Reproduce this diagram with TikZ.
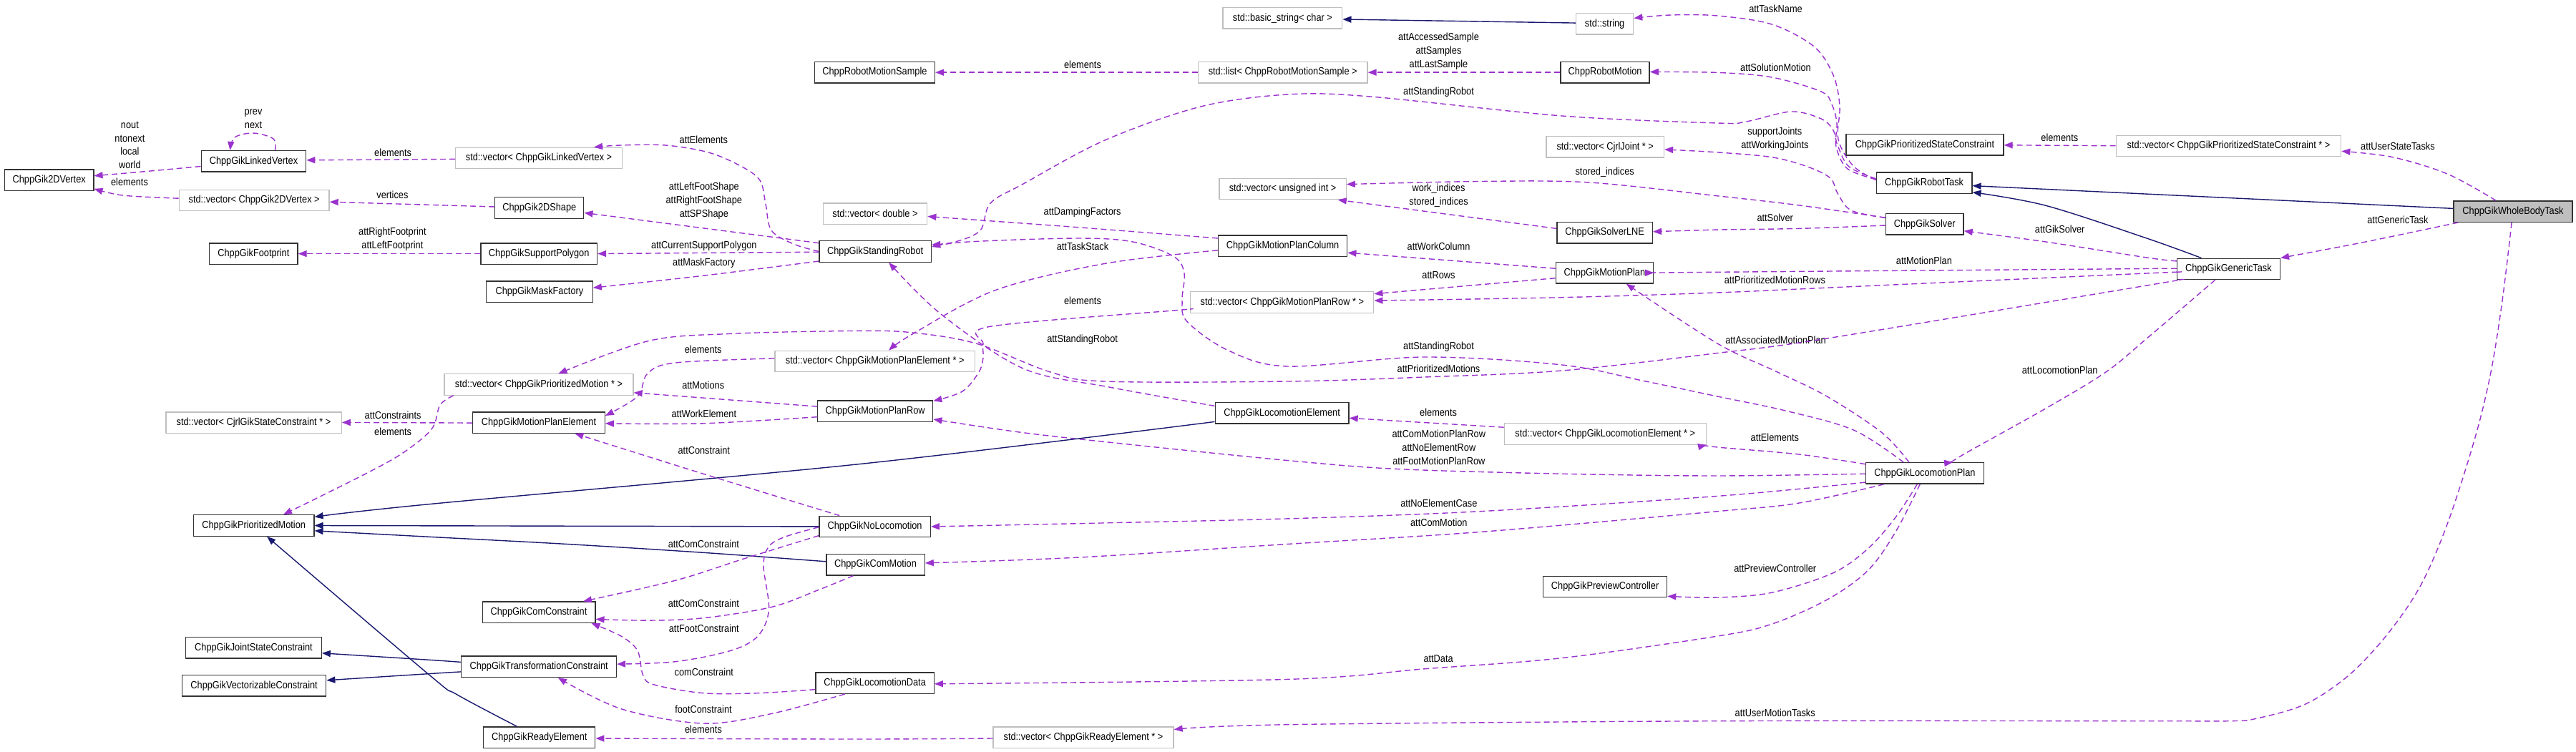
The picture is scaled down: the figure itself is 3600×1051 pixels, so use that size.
\documentclass[tikz,border=0pt]{standalone}
\usepackage{fontspec}
\setmainfont{Liberation Sans}[FakeStretch=0.88]
\usetikzlibrary{arrows.meta,calc}
\definecolor{usec}{RGB}{154,50,205}
\definecolor{inhc}{RGB}{25,25,112}
\definecolor{extc}{RGB}{191,191,191}
\definecolor{selc}{RGB}{191,191,191}
\newcommand{\dgf}{\fontsize{14.5}{18.8}\selectfont}
\begin{document}
\begin{tikzpicture}[x=1pt,y=-1pt,
  cls/.style={draw=black!80,line width=1.3pt,fill=white,minimum height=29.4pt,inner sep=0pt,font=\dgf},
  ext/.style={cls,draw=extc},
  lbl/.style={inner sep=0pt,align=center,font=\dgf},
  usage/.style={draw=usec,line width=1.4pt,dash pattern=on 8pt off 5pt,-{Triangle[length=12pt,width=9pt]}},
  inher/.style={draw=inhc,line width=1.4pt,-{Triangle[length=12pt,width=9pt]}},
  sm/.style={smooth,tension=0.55}]
\fill[white] (0,0) rectangle (3600,1051);
\useasboundingbox (0,0) rectangle (3600,1051);
% ---------------- nodes
\node[cls,minimum width=124.4] (v2d) at (68.7,251.8) {ChppGik2DVertex};
\node[cls,minimum width=146.5] (lv) at (354.5,225.3) {ChppGikLinkedVertex};
\node[ext,minimum width=209.7] (vtd) at (355.2,280) {std::vector< ChppGik2DVertex >};
\node[cls,minimum width=123.3] (fp) at (354.4,354.6) {ChppGikFootprint};
\node[ext,minimum width=232.7] (veclv) at (753,221) {std::vector< ChppGikLinkedVertex >};
\node[cls,minimum width=124] (shape) at (753.8,290.5) {ChppGik2DShape};
\node[cls,minimum width=162.7] (sp) at (753.2,354.6) {ChppGikSupportPolygon};
\node[cls,minimum width=148.5] (mf) at (753.9,407.8) {ChppGikMaskFactory};
\node[cls,minimum width=168] (rms) at (1222.4,101.2) {ChppRobotMotionSample};
\node[cls,minimum width=156.5] (sr) at (1223.2,351.5) {ChppGikStandingRobot};
\node[ext,minimum width=145.4] (vdbl) at (1223,298.6) {std::vector< double >};
\node[ext,minimum width=279.7] (vmpe) at (1222.7,505.1) {std::vector< ChppGikMotionPlanElement * >};
\node[ext,minimum width=166.8] (bstr) at (1792.4,25.3) {std::basic\_string< char >};
\node[ext,minimum width=236.5] (lrms) at (1792.7,101.2) {std::list< ChppRobotMotionSample >};
\node[ext,minimum width=177.1] (vuint) at (1792.6,264) {std::vector< unsigned int >};
\node[cls,minimum width=180.3] (mpc) at (1792.6,343.6) {ChppGikMotionPlanColumn};
\node[ext,minimum width=256] (vmpr) at (1791.8,422.5) {std::vector< ChppGikMotionPlanRow * >};
\node[ext,minimum width=80] (str) at (2242.6,33.3) {std::string};
\node[cls,minimum width=124] (rm) at (2243.1,101.2) {ChppRobotMotion};
\node[ext,minimum width=164.5] (vjoint) at (2243.2,205.3) {std::vector< CjrlJoint * >};
\node[cls,minimum width=133.5] (lne) at (2242.6,325.2) {ChppGikSolverLNE};
\node[cls,minimum width=136.2] (mp) at (2242.4,381.3) {ChppGikMotionPlan};
\node[cls,minimum width=220] (psc) at (2689.9,202.3) {ChppGikPrioritizedStateConstraint};
\node[cls,minimum width=133.6] (rt) at (2689.1,255.7) {ChppGikRobotTask};
\node[cls,minimum width=108.7] (solver) at (2689.7,313.3) {ChppGikSolver};
\node[ext,minimum width=314.5] (vpsc) at (3114.5,204) {std::vector< ChppGikPrioritizedStateConstraint * >};
\node[cls,fill=selc,minimum width=166] (wbt) at (3512,295.6) {ChppGikWholeBodyTask};
\node[cls,minimum width=144] (gt) at (3114.4,375.9) {ChppGikGenericTask};
\node[ext,minimum width=245.3] (vcjrl) at (354.5,590.6) {std::vector< CjrlGikStateConstraint * >};
\node[cls,minimum width=168.4] (pm) at (354.7,734.5) {ChppGikPrioritizedMotion};
\node[cls,minimum width=189.4] (jsc) at (354.5,905.4) {ChppGikJointStateConstraint};
\node[cls,minimum width=201.3] (vc) at (355.1,958.3) {ChppGikVectorizableConstraint};
\node[ext,minimum width=264] (vpm) at (753,537.5) {std::vector< ChppGikPrioritizedMotion * >};
\node[cls,minimum width=184.5] (mpe) at (753,590.6) {ChppGikMotionPlanElement};
\node[cls,minimum width=157.7] (cc) at (753,855.7) {ChppGikComConstraint};
\node[cls,minimum width=216.6] (tc) at (753.1,931.8) {ChppGikTransformationConstraint};
\node[cls,minimum width=156] (re) at (753.8,1030.6) {ChppGikReadyElement};
\node[cls,minimum width=161] (mpr) at (1223.2,574.7) {ChppGikMotionPlanRow};
\node[cls,minimum width=155.4] (noloc) at (1222.6,735.9) {ChppGikNoLocomotion};
\node[cls,minimum width=137.3] (cm) at (1223.5,789.2) {ChppGikComMotion};
\node[cls,minimum width=165.3] (ld) at (1222.6,954.6) {ChppGikLocomotionData};
\node[cls,minimum width=186.8] (le) at (1791.6,577.4) {ChppGikLocomotionElement};
\node[ext,minimum width=252] (vre) at (1514,1030.6) {std::vector< ChppGikReadyElement * >};
\node[ext,minimum width=282] (vle) at (2243.3,606.5) {std::vector< ChppGikLocomotionElement * >};
\node[cls,minimum width=173] (pc) at (2243.1,820) {ChppGikPreviewController};
\node[cls,minimum width=164.9] (lp) at (2689.9,661.4) {ChppGikLocomotionPlan};
% ---------------- labels
\node[lbl] (l1) at (181.4,202.8) {nout\\ntonext\\local\\world};
\node[lbl] (l2) at (181,254.5) {elements};
\node[lbl] (l3) at (354,166.5) {prev\\next};
\node[lbl] (l4) at (549.1,212.9) {elements};
\node[lbl] (l5) at (548.4,272.1) {vertices};
\node[lbl] (l6) at (548.4,334.1) {attRightFootprint\\attLeftFootprint};
\node[lbl] (l7) at (983.4,195) {attElements};
\node[lbl] (l8) at (983.8,280.8) {attLeftFootShape\\attRightFootShape\\attSPShape};
\node[lbl] (l9) at (983.8,344.1) {attCurrentSupportPolygon};
\node[lbl] (l10) at (983.8,367.7) {attMaskFactory};
\node[lbl] (l11) at (982.7,488.7) {elements};
\node[lbl] (l12) at (1513,90.6) {elements};
\node[lbl] (l13) at (1512.6,296.8) {attDampingFactors};
\node[lbl] (l14) at (1513,344.8) {attTaskStack};
\node[lbl] (l15) at (1513,420.8) {elements};
\node[lbl] (l16) at (1512.6,474.9) {attStandingRobot};
\node[lbl] (l17) at (2010.5,71.8) {attAccessedSample\\attSamples\\attLastSample};
\node[lbl] (l18) at (2010.5,128.8) {attStandingRobot};
\node[lbl] (l19) at (2242.7,240.7) {stored\_indices};
\node[lbl] (l20) at (2010.5,273.1) {work\_indices\\stored\_indices};
\node[lbl] (l21) at (2010.5,344.8) {attWorkColumn};
\node[lbl] (l22) at (2010.5,384.6) {attRows};
\node[lbl] (l23) at (2010.5,485) {attStandingRobot};
\node[lbl] (l24) at (2010.5,515.5) {attPrioritizedMotions};
\node[lbl] (l25) at (2481.5,12.8) {attTaskName};
\node[lbl] (l26) at (2481.5,94.6) {attSolutionMotion};
\node[lbl] (l27) at (2480.4,194.2) {supportJoints\\attWorkingJoints};
\node[lbl] (l28) at (2878.3,192.7) {elements};
\node[lbl] (l29) at (2480.7,304.5) {attSolver};
\node[lbl] (l30) at (2878.7,320.8) {attGikSolver};
\node[lbl] (l31) at (2688.9,364.7) {attMotionPlan};
\node[lbl] (l32) at (2480.4,391.7) {attPrioritizedMotionRows};
\node[lbl] (l33) at (2481.5,474.9) {attAssociatedMotionPlan};
\node[lbl] (l34) at (2878.7,517.1) {attLocomotionPlan};
\node[lbl] (l35) at (3350.9,204.5) {attUserStateTasks};
\node[lbl] (l36) at (3350.9,307.6) {attGenericTask};
\node[lbl] (l37) at (549.1,580) {attConstraints};
\node[lbl] (l38) at (549.1,603.6) {elements};
\node[lbl] (l39) at (982.7,538.6) {attMotions};
\node[lbl] (l40) at (983.8,578.6) {attWorkElement};
\node[lbl] (l41) at (983.8,629) {attConstraint};
\node[lbl] (l42) at (983.4,760.4) {attComConstraint};
\node[lbl] (l43) at (983.4,843.4) {attComConstraint};
\node[lbl] (l44) at (983.8,878.3) {attFootConstraint};
\node[lbl] (l45) at (983.8,938.9) {comConstraint};
\node[lbl] (l46) at (983,991.7) {footConstraint};
\node[lbl] (l47) at (983,1019.8) {elements};
\node[lbl] (l48) at (2010.1,575.9) {elements};
\node[lbl] (l49) at (2010.8,625.1) {attComMotionPlanRow\\attNoElementRow\\attFootMotionPlanRow};
\node[lbl] (l50) at (2010.8,702.9) {attNoElementCase};
\node[lbl] (l51) at (2010.8,730.6) {attComMotion};
\node[lbl] (l52) at (2010.1,920.6) {attData};
\node[lbl] (l53) at (2480.4,611.8) {attElements};
\node[lbl] (l54) at (2480.7,794.6) {attPreviewController};
\node[lbl] (l55) at (2480.7,996.8) {attUserMotionTasks};
% ---------------- edges
\draw[usage] plot[sm] coordinates {($(lv.west)+(0,7.2)$) (191.3,240.7) ($(v2d.east)+(0,-6.1)$)};
\draw[usage] plot[sm] coordinates {($(vtd.west)+(0,-2.8)$) (172.2,273.1) ($(v2d.east)+(0,12)$)};
\draw[usage] plot[sm] coordinates {($(lv.north)+(30,0)$) (382,194) (354,186) (328,192) ($(lv.north)+(-33,0)$)};
\draw[usage] ($(veclv.west)+(0,1.4)$) -- ($(lv.east)+(0,-1.5)$);
\draw[usage] ($(shape.west)+(0,-1.5)$) -- ($(vtd.east)+(0,2.2)$);
\draw[usage] (sp.west) -- (fp.east);
\draw[usage] plot[sm] coordinates {(sr.west) (1109,341) (1078,322) (1070,285) (1062,252) (1035,232) (990,213) (930,203) (868,203) ($(veclv.north east)+(-40,0)$)};
\draw[usage] ($(sr.west)+(0,-11.8)$) -- ($(shape.east)+(0,6.9)$);
\draw[usage] ($(sr.west)+(0,0.7)$) -- (sp.east);
\draw[usage] plot[sm] coordinates {($(sr.west)+(0,13.5)$) (982.7,385.3) ($(mf.east)+(0,-5.6)$)};
\draw[usage] (lrms.west) -- (rms.east);
\draw[inher] ($(str.west)+(0,-1.2)$) -- ($(bstr.east)+(0,1.7)$);
\draw[usage] (rm.west) -- (lrms.east);
\draw[usage] plot[sm] coordinates {($(rt.west)+(0,-4)$) (2590,232) (2569,195) (2571,148) (2562,105) (2535,65) (2476,34) (2400,22) (2335,21) ($(str.east)+(0,-7.9)$)};
\draw[usage] plot[sm] coordinates {($(rt.west)+(0,-5)$) (2582,236) (2566,205) (2567,172) (2560,146) (2545,128) (2476,108) (2400,101.4) ($(rm.east)+(0,-0.7)$)};
\draw[usage] plot[sm] coordinates {($(rt.west)+(0,-6)$) (2584,233) (2568,203) (2562,182) (2545,166) (2503,156) (2440,170) (2400,172) (2183,162) (1915,135) (1800,132) (1678,149) (1544,196) (1430,257) (1384,284) (1370,322) (1335,338) ($(sr.east)+(0,-9.5)$)};
\draw[usage] plot[sm] coordinates {($(solver.west)+(0,-9)$) (2587,294) (2568,270) (2558,249) (2526,233) (2476,219.7) (2400,212.9) ($(vjoint.east)+(0,3.6)$)};
\draw[usage] plot[sm] coordinates {($(solver.west)+(0,-9)$) (2515,287) (2400,273.8) (2221,255) (2068,253.5) ($(vuint.east)+(0,-6.4)$)};
\draw[usage] ($(lne.west)+(0,-5.8)$) -- ($(vuint.south east)+(-12,0)$);
\draw[usage] plot[sm] coordinates {($(solver.west)+(0,1.7)$) (2515,319.4) (2400,321.1) ($(lne.east)+(0,-1.4)$)};
\draw[inher] ($(wbt.west)+(0,-4.2)$) -- ($(rt.east)+(0,3.9)$);
\draw[inher] plot[sm] coordinates {($(gt.north)+(-38,0)$) (3000,333) (2859,287.3) ($(rt.east)+(0,13)$)};
\draw[usage] plot[sm] coordinates {($(gt.west)+(0,-11)$) (3000,360) (2859,338) ($(solver.east)+(0,9.5)$)};
\draw[usage] plot[sm] coordinates {($(gt.west)+(0,-0.7)$) (2400,380.3) (mp.east)};
\draw[usage] plot[sm] coordinates {($(gt.west)+(0,4.4)$) (3000,382) (2553,402.2) (2400,409) (2183,415.7) ($(vmpr.east)+(0,-2.4)$)};
\draw[usage] plot[sm] coordinates {($(gt.south west)+(3,0)$) (3000,399) (2553,473) (2400,493.5) (2183,518) (1991,527) (1800,533) (1544,533) (1468,520) (1364,480) (1276,465) (1200,462.4) (1021,466.4) (906,476.6) ($(vpm.north east)+(-105.2,0)$)};
\draw[usage] ($(mp.west)+(0,-6.1)$) -- ($(mpc.east)+(0,9.6)$);
\draw[usage] ($(mp.west)+(0,7.4)$) -- ($(vmpr.east)+(0,-11.8)$);
\draw[usage] plot[sm] coordinates {($(lp.north)+(-22,0)$) (2630,604.7) (2553,553.9) (2484,520) (2400,480) ($(mp.south)+(30.2,0)$)};
\draw[usage] plot[sm] coordinates {($(mpc.west)+(0,-10.6)$) (1506,317.7) ($(vdbl.east)+(0,3.9)$)};
\draw[usage] plot[sm] coordinates {($(mpc.west)+(0,6.2)$) (1544,368.4) (1391,405.6) (1276,466.4) ($(vmpe.north)+(19.4,0)$)};
\draw[usage] plot[sm] coordinates {($(vmpe.west)+(0,-4.2)$) (944,507) (905,522) (891,554) ($(mpe.east)+(0,-9.6)$)};
\draw[usage] plot[sm] coordinates {($(vmpr.west)+(0,9.5)$) (1640,434) (1384,456.3) (1374,480) (1374,500) (1368,520) (1345,547) ($(mpr.north east)+(0,1)$)};
\draw[usage] plot[sm] coordinates {($(le.west)+(0,-10)$) (1550,541) (1430,515) (1315,439) ($(sr.south)+(19,0)$)};
\draw[usage] plot[sm] coordinates {($(lp.north)+(-29.7,0)$) (2591,601.3) (2496,574.2) (2400,554) (2300,533) (2183,510) (1991,499) (1800,512) (1717,490) (1659,449.5) (1652,420) (1655,382) (1640,358.3) (1583,338) (1506,333) (1353,338) ($(sr.east)+(0,-6.5)$)};
\draw[usage] plot[sm] coordinates {($(wbt.north)+(-24,0)$) (3421,243.4) (3344,219.7) ($(vpsc.east)+(0,7.3)$)};
\draw[usage] ($(vpsc.west)+(0,-0.2)$) -- ($(psc.east)+(0,0.5)$);
\draw[usage] plot[sm] coordinates {($(wbt.south west)+(7,0)$) (3306,338) (gt.north east)};
\draw[usage] plot[sm] coordinates {($(gt.south)+(-18.7,0)$) (3000,473.2) (2943,520) (2859,570.8) (2744,635.1) ($(lp.north)+(39.2,0)$)};
\draw[usage] plot[sm] coordinates {($(wbt.south)+(-1.9,0)$) (3497,420) (3481,520) (3459,611.4) (3421,730) (3383,818) (3337,885.7) (3283,943.3) (3222,984) (3153,1004.3) (3115,1007.7) (3000,1007.7) (2400,1007.7) (1800,1012.7) ($(vre.east)+(0,-11.1)$)};
\draw[usage] plot[sm] coordinates {($(vre.west)+(0,1.4)$) (1200,1033) ($(re.east)+(0,1.4)$)};
\draw[usage] plot[sm] coordinates {($(lp.south)+(-6.7,0)$) (2649,743.5) (2610,797.7) (2553,838.3) (2476,872.2) (2400,889.1) (2183,919.6) (1991,934.8) (1800,949.4) ($(ld.east)+(0,1.2)$)};
\draw[usage] plot[sm] coordinates {($(lp.south)+(-10.6,0)$) (2649,723.2) (2610,767.2) (2561,801.1) (2476,828.2) (2400,835) ($(pc.east)+(0,13.3)$)};
\draw[usage] plot[sm] coordinates {($(lp.west)+(0,-12.7)$) (2515,635.1) (2400,625) (vle.south east)};
\draw[usage] ($(vle.west)+(0,-9.3)$) -- ($(le.east)+(0,6.9)$);
\draw[usage] plot[sm] coordinates {($(lp.west)+(0,0.8)$) (2400,665) (2183,662.2) (1953,655.5) (1800,643.6) (1583,621.6) (1430,604.7) ($(mpr.east)+(0,11.3)$)};
\draw[usage] plot[sm] coordinates {($(lp.west)+(0,12.7)$) (2400,693.4) (2068,714.7) (1800,724.9) (1506,731.7) ($(noloc.east)+(0,0.1)$)};
\draw[usage] plot[sm] coordinates {($(lp.south west)+(26,0)$) (2515,702.9) (2400,714.7) (2068,743.5) (1800,760.4) (1506,779.1) ($(cm.east)+(0,-2.3)$)};
\draw[inher] (noloc.west) -- (pm.east);
\draw[inher] plot[sm] coordinates {($(cm.west)+(0,-4.4)$) (982.7,772.3) (791.3,760.4) (600,750.3) ($(pm.east)+(0,7.3)$)};
\draw[inher] plot[sm] coordinates {($(le.west)+(0,12)$) (1200,648.7) (600,704.6) ($(pm.east)+(0,-12)$)};
\draw[inher] plot[sm] coordinates {($(re.north)+(-31.4,0)$) (638,970.4) (600,943.3) ($(pm.south)+(18.4,0)$)};
\draw[inher] plot[sm] coordinates {($(tc.west)+(0,-6.4)$) (600,922.3) ($(jsc.east)+(0,7.4)$)};
\draw[inher] plot[sm] coordinates {($(tc.west)+(0,7.1)$) (600,941.6) ($(vc.east)+(0,-7.5)$)};
\draw[usage] ($(mpe.west)+(0,0.5)$) -- ($(vcjrl.east)+(0,-0.2)$);
\draw[usage] plot[sm] coordinates {($(vpm.south west)+(13.4,0)$) (615,566) (603,600) (560,635) (497.5,669) ($(pm.north)+(41.3,0)$)};
\draw[usage] ($(mpr.west)+(0,-6.6)$) -- ($(vpm.east)+(0,11.3)$);
\draw[usage] plot[sm] coordinates {($(mpr.west)+(0,8)$) (982.7,591.8) ($(mpe.east)+(0,1.2)$)};
\draw[usage] plot[sm] coordinates {($(noloc.north west)+(29,0)$) (982.7,662.2) ($(mpe.south east)+(-42.5,0)$)};
\draw[usage] plot[sm] coordinates {($(noloc.west)+(0,12.7)$) (1040,780.8) (944,811.2) ($(cc.north east)+(-17.5,0)$)};
\draw[usage] plot[sm] coordinates {($(cm.south west)+(38.3,0)$) (1143,824.8) (1078,848.5) (983,863.7) (906,867.1) ($(cc.east)+(0,9.7)$)};
\draw[usage] plot[sm] coordinates {($(noloc.west)+(0,0.8)$) (1097,750.3) (1074.5,763.8) (1067,790.9) (1074.5,851.9) (1059,889.1) (1021,909.4) (944,924.7) ($(tc.east)+(0,-3.7)$)};
\draw[usage] plot[sm] coordinates {($(ld.west)+(0,9)$) (1059,968.7) (983,968.7) (914,956.9) (898.5,943.3) (891,909.4) (868,889.1) ($(cc.south east)+(-6,0)$)};
\draw[usage] plot[sm] coordinates {($(ld.south west)+(41.6,0)$) (1078,997.5) (983,1011) (868,990.7) ($(tc.south)+(26.7,0)$)};
\end{tikzpicture}
\end{document}
